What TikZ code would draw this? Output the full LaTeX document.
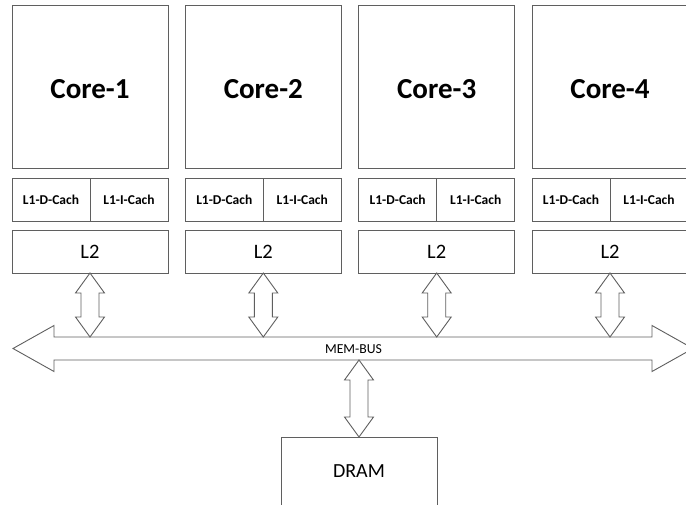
\documentclass[tikz,border=0pt]{standalone}
\usepackage{fontspec}
\setmainfont{Carlito}
\usetikzlibrary{calc}
\definecolor{edge}{RGB}{95,95,95}
\newcommand\vdarrow[2]{\draw[arrowline] let \p1=(#1), \p2=(#2) in
  (\x1,\y1) -- (\x1+14.5pt,\y1-20pt) -- (\x1+9pt,\y1-20pt) -- (\x1+9pt,\y2+20pt)
  -- (\x1+14.5pt,\y2+20pt) -- (\x1,\y2) -- (\x1-14.5pt,\y2+20pt) -- (\x1-9pt,\y2+20pt)
  -- (\x1-9pt,\y1-20pt) -- (\x1-14.5pt,\y1-20pt) -- cycle;}
\begin{document}
\begin{tikzpicture}[x=1pt,y=-1pt,
  box/.style={draw=edge, line width=0.9pt, fill=white, inner sep=0pt, outer sep=0pt, anchor=center},
  corebox/.style={box, minimum width=156pt, minimum height=163pt},
  corefont/.style={font=\bfseries\fontsize{29}{31}\selectfont},
  l1box/.style={box, minimum width=78pt, minimum height=43pt, font=\bfseries\fontsize{13.5}{15}\selectfont},
  l2box/.style={box, minimum width=156pt, minimum height=43pt, font=\fontsize{20.5}{22}\selectfont},
  arrowline/.style={draw=edge, line width=0.9pt, fill=white, line join=miter}]
\useasboundingbox (0,0) rectangle (686,504);
\clip (0,0) rectangle (686,504);
\coordinate (bustop) at (0,337);
\coordinate (busbot) at (0,360);
\coordinate (busL) at (13,348.5);
\coordinate (busR) at (693,348.5);
\foreach \i/\x in {1/90, 2/263.3, 3/436.7, 4/610} {
  \node[corebox, label={[corefont, yshift=-2.7pt]center:Core-\i}] (core\i) at (\x,86.5) {};
  \node[l1box] (ld\i) at (\x-39,199.5) {L1-D-Cach};
  \node[l1box] (li\i) at (\x+39,199.5) {L1-I-Cach};
  \node[l2box] (l2\i) at (\x,251.5) {L2};
}
% memory bus
\draw[arrowline] (busL) -- ++(41,-23) -- ++(0,11.5) -- ($(busR)+(-41,-11.5)$) -- ++(0,-11.5)
  -- (busR) -- ++(-41,23) -- ++(0,-11.5) -- ($(busL)+(41,11.5)$) -- ++(0,11.5) -- cycle;
\node[font=\fontsize{13.7}{15}\selectfont] (bus) at (353.5,349) {MEM-BUS};
\foreach \i in {1,...,4} {
  \vdarrow{l2\i.south}{l2\i.south |- bustop}
}
\node[box, minimum width=156pt, minimum height=68pt, font=\fontsize{20}{22}\selectfont] (dram) at (359,471) {DRAM};
\vdarrow{dram.north |- busbot}{dram.north}
\end{tikzpicture}
\end{document}
